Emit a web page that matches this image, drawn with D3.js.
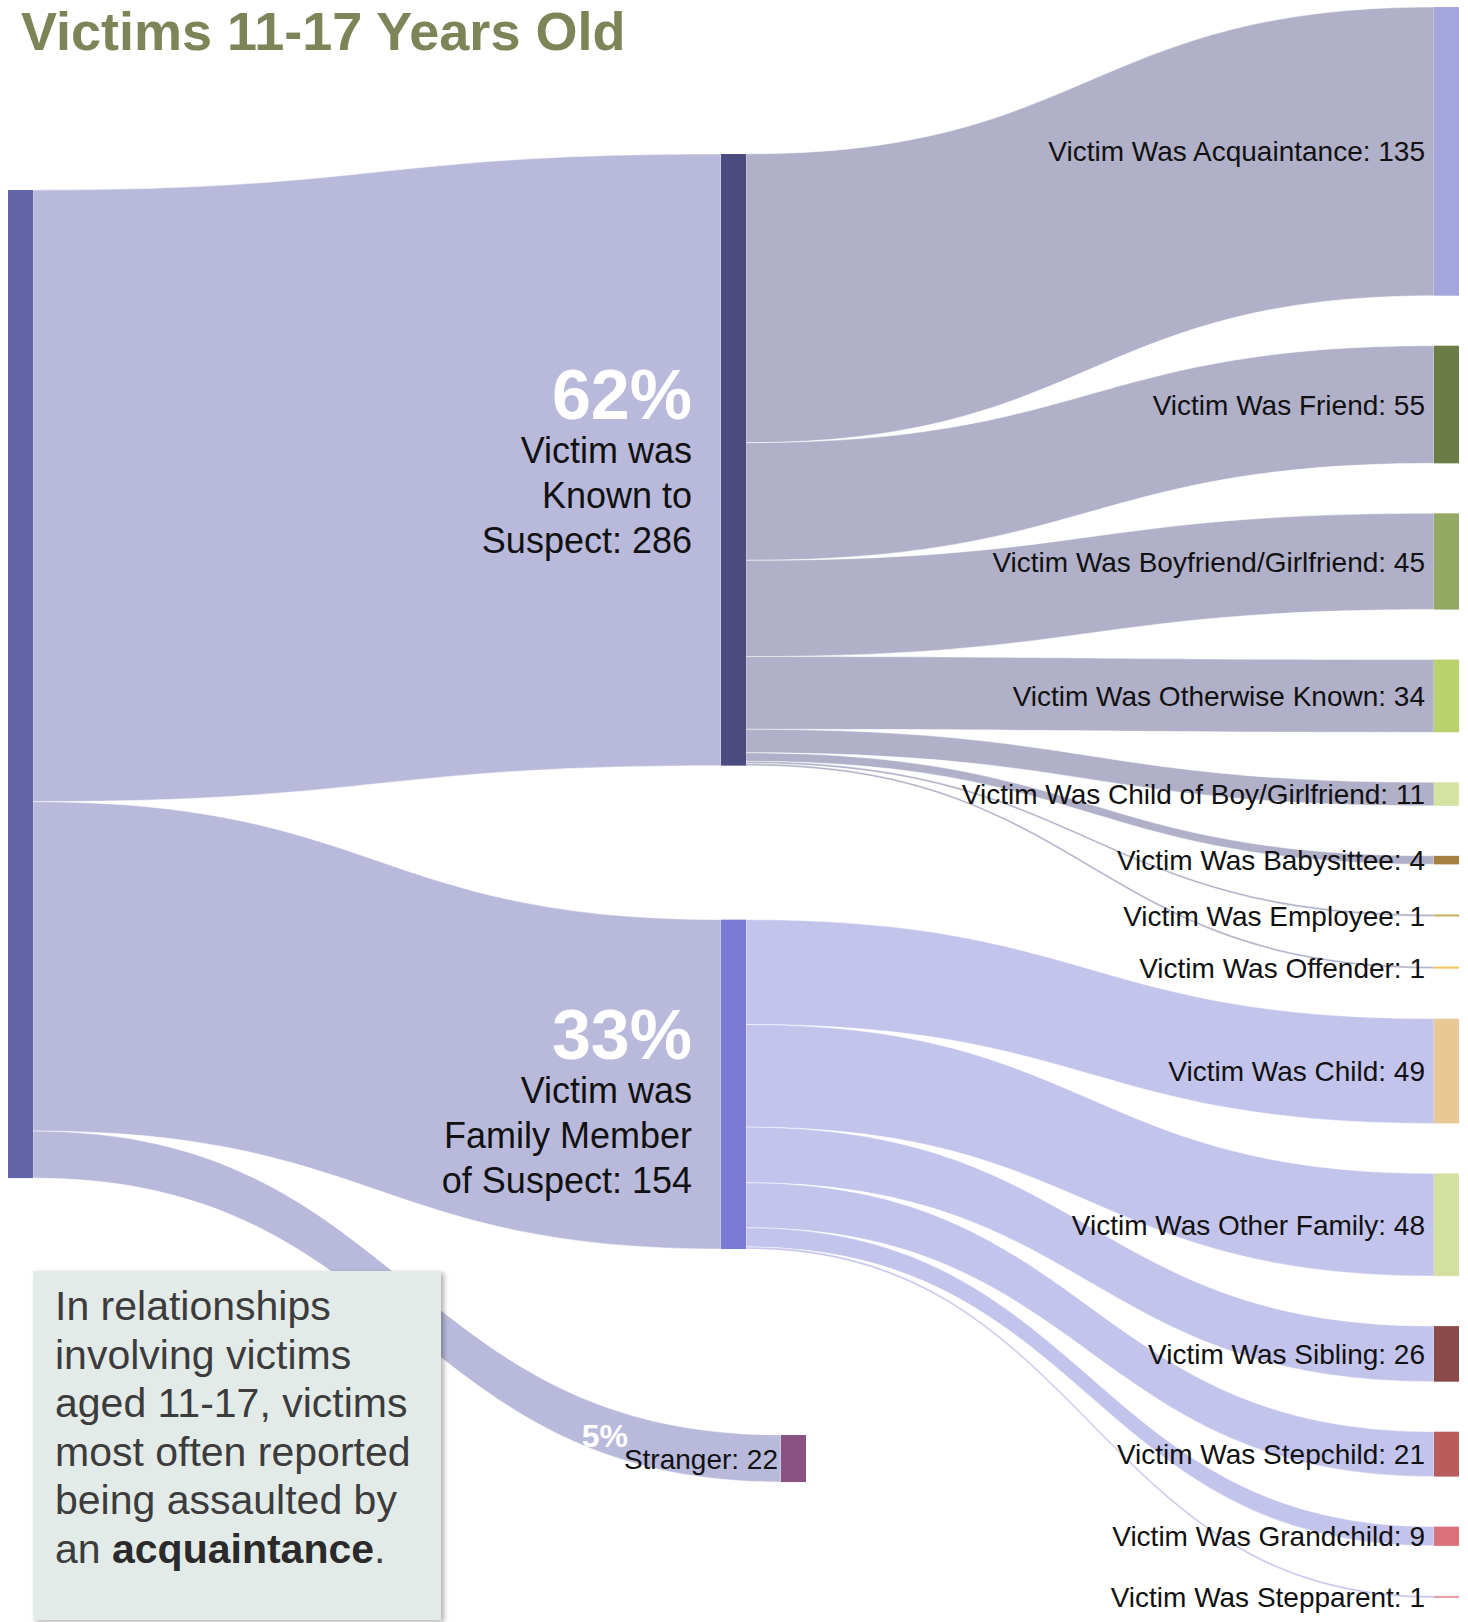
<!DOCTYPE html>
<html>
<head>
<meta charset="utf-8">
<script src="https://cdn.jsdelivr.net/npm/d3@7"></script>
<style>
  html, body { margin: 0; padding: 0; background: #fff; }
  svg { display: block; }
  text { font-family: "Liberation Sans", Arial, sans-serif; }
</style>
</head>
<body>
<svg id="chart" width="1468" height="1622"></svg>
<script>
// ---------------- DATA ----------------
const titleText = "Victims 11-17 Years Old";

const midCategories = ["Known", "Family", "Stranger"];
const midLabels = [
  ["Victim was", "Known to", "Suspect: 286"],
  ["Victim was", "Family Member", "of Suspect: 154"],
  ["Stranger: 22"]
];
const midValues = [286, 154, 22];
const midPercents = ["62%", "33%", "5%"];

const knownCategories = [
  "Victim Was Acquaintance", "Victim Was Friend", "Victim Was Boyfriend/Girlfriend",
  "Victim Was Otherwise Known", "Victim Was Child of Boy/Girlfriend", "Victim Was Babysittee",
  "Victim Was Employee", "Victim Was Offender"
];
const knownValues = [135, 55, 45, 34, 11, 4, 1, 1];

const familyCategories = [
  "Victim Was Child", "Victim Was Other Family", "Victim Was Sibling",
  "Victim Was Stepchild", "Victim Was Grandchild", "Victim Was Stepparent"
];
const familyValues = [49, 48, 26, 21, 9, 1];

const noteLines = [
  [["In relationships", false]],
  [["involving victims", false]],
  [["aged 11-17, victims", false]],
  [["most often reported", false]],
  [["being assaulted by", false]],
  [["an ", false], ["acquaintance", true], [".", false]]
];

// ---------------- STYLE ----------------
const rootColor = "#6264a7";
const midColors = ["#4b4b80", "#7a7bd4", "#8a5282"];
const knownColors = ["#a5a6de", "#6b7c45", "#93a862", "#b9d26e", "#d5e3a3", "#a68040", "#c8b460", "#f0c860"];
const familyColors = ["#e8c996", "#d4e0a0", "#8b4a4a", "#b85c5c", "#d9707a", "#e8a0a8"];
const rootLinkColor = "#b9badb";
const knownLinkColor = "#b0b0c8";
const familyLinkColor = "#c3c4eb";

// ---------------- LAYOUT ----------------
const svg = d3.select("#chart");
const nodeW = 25;
const rightTop = 7, rightBottom = 1598, rightPad = 50;
const rightValues = knownValues.concat(familyValues);
const rightColors = knownColors.concat(familyColors);
const rightNames = knownCategories.concat(familyCategories);
const rightParent = knownValues.map(() => 0).concat(familyValues.map(() => 1));

const totalRight = d3.sum(rightValues);
const h = d3.scaleLinear()
  .domain([0, totalRight])
  .range([0, rightBottom - rightTop - rightPad * (rightValues.length - 1)]);

const colX = d3.scaleLinear().domain([0, 2]).range([8, 1434]);

// root node
const rootTop = 190;
const root = { x0: colX(0), x1: colX(0) + nodeW, y0: rootTop, y1: rootTop + h(d3.sum(midValues)), color: rootColor };

// middle nodes
const midTop = 154, midGaps = [154, 186], strangerShift = 60;
const labelShift = [-8, 8];
const mids = [];
let yy = midTop;
midValues.forEach((v, i) => {
  if (i > 0) yy += midGaps[i - 1];
  const x0 = colX(1) + (i === 2 ? strangerShift : 0);
  mids.push({ name: midCategories[i], value: v, x0, x1: x0 + nodeW, y0: yy, y1: yy + h(v), color: midColors[i] });
  yy += h(v);
});

// right nodes
const rights = [];
yy = rightTop;
rightValues.forEach((v, i) => {
  if (i > 0) yy += rightPad;
  rights.push({ name: rightNames[i], value: v, x0: colX(2), x1: colX(2) + nodeW, y0: yy, y1: yy + h(v), color: rightColors[i], parent: rightParent[i] });
  yy += h(v);
});

// links
const links = [];
let sy = root.y0;
mids.forEach(m => {
  const w = h(m.value);
  links.push({ sx: root.x1, tx: m.x0, s0: sy, s1: sy + w, t0: m.y0, t1: m.y1, color: rootLinkColor });
  sy += w;
});
const offs = [mids[0].y0, mids[1].y0];
rights.forEach(r => {
  const m = mids[r.parent];
  const w = h(r.value);
  const s0 = offs[r.parent];
  links.push({ sx: m.x1, tx: r.x0, s0, s1: s0 + w, t0: r.y0, t1: r.y1, color: r.parent === 0 ? knownLinkColor : familyLinkColor });
  offs[r.parent] += w;
});

function bandPath(l) {
  const xm = (l.sx + l.tx) / 2;
  const p = d3.path();
  p.moveTo(l.sx, l.s0);
  p.bezierCurveTo(xm, l.s0, xm, l.t0, l.tx, l.t0);
  p.lineTo(l.tx, l.t1);
  p.bezierCurveTo(xm, l.t1, xm, l.s1, l.sx, l.s1);
  p.closePath();
  return p.toString();
}

// shadow filter
const defs = svg.append("defs");
const f = defs.append("filter").attr("id", "shadow").attr("x", "-10%").attr("y", "-10%").attr("width", "130%").attr("height", "130%");
f.append("feDropShadow").attr("dx", 3).attr("dy", 2).attr("stdDeviation", 2.5).attr("flood-color", "#000").attr("flood-opacity", 0.3);

// draw links
svg.append("g").selectAll("path").data(links).join("path")
  .attr("d", bandPath)
  .attr("fill", d => d.color)
  .attr("stroke", "#ffffff")
  .attr("stroke-opacity", 0.6)
  .attr("stroke-width", 0.8);

// nodes
const allNodes = [root].concat(mids, rights);
svg.append("g").selectAll("rect").data(allNodes).join("rect")
  .attr("x", d => d.x0).attr("y", d => d.y0)
  .attr("width", d => d.x1 - d.x0)
  .attr("height", d => Math.max(1.5, d.y1 - d.y0))
  .attr("fill", d => d.color);

// right labels
svg.append("g").selectAll("text").data(rights).join("text")
  .attr("x", d => d.x0 - 9)
  .attr("y", d => (d.y0 + d.y1) / 2)
  .attr("dy", "0.36em")
  .attr("text-anchor", "end")
  .attr("font-size", 28)
  .attr("fill", "#111")
  .text(d => `${d.name}: ${d.value}`);

// middle labels (known, family)
mids.slice(0, 2).forEach((m, i) => {
  const cy = (m.y0 + m.y1) / 2 + labelShift[i];
  const xr = m.x0 - 29;
  svg.append("text")
    .attr("x", xr).attr("y", cy - 33)
    .attr("text-anchor", "end")
    .attr("font-size", 70).attr("font-weight", "bold")
    .attr("fill", "#fff")
    .text(midPercents[i]);
  midLabels[i].forEach((line, j) => {
    svg.append("text")
      .attr("x", xr).attr("y", cy + 11 + j * 45)
      .attr("text-anchor", "end")
      .attr("font-size", 36)
      .attr("fill", "#111")
      .text(line);
  });
});

// note box (above stranger link)
const box = { x: 33, y: 1271, w: 408, h: 349 };
svg.append("rect")
  .attr("x", box.x).attr("y", box.y).attr("width", box.w).attr("height", box.h)
  .attr("fill", "#e3ebe8")
  .attr("filter", "url(#shadow)");
const note = svg.append("text").attr("font-size", 41).attr("fill", "#3c3c3c");
noteLines.forEach((parts, i) => {
  const t = note.append("tspan").attr("x", box.x + 22).attr("y", box.y + 49 + i * 48.6);
  parts.forEach(([s, b]) => {
    t.append("tspan")
      .attr("font-weight", b ? "bold" : null)
      .attr("fill", b ? "#2a2a2a" : null)
      .text(s);
  });
});

// stranger labels
const st = mids[2];
const scy = (st.y0 + st.y1) / 2;
svg.append("text")
  .attr("x", st.x0 - 3).attr("y", scy).attr("dy", "0.36em")
  .attr("text-anchor", "end").attr("font-size", 28).attr("fill", "#111")
  .text(midLabels[2][0]);
svg.append("text")
  .attr("x", st.x0 - 153).attr("y", scy - 12)
  .attr("text-anchor", "end").attr("font-size", 32).attr("font-weight", "bold")
  .attr("fill", "#fff")
  .text(midPercents[2]);

// title
svg.append("text")
  .attr("x", 21).attr("y", 50)
  .attr("font-size", 54).attr("font-weight", "bold")
  .attr("fill", "#7d8457")
  .text(titleText);
</script>
</body>
</html>
